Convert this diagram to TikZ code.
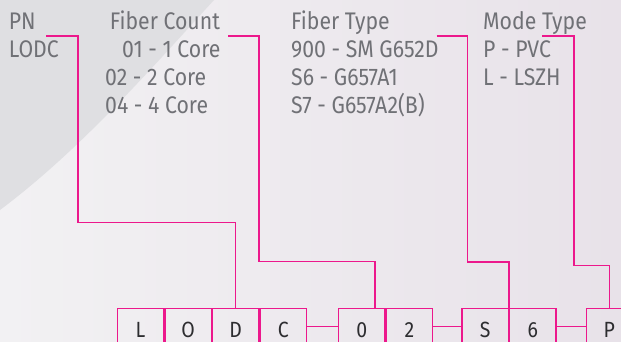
\documentclass[tikz,border=0pt]{standalone}
\usepackage{fontspec}
\setmainfont{Fira Sans}[FakeStretch=0.885]
\usepackage{tikz}
\usetikzlibrary{positioning,calc}
\definecolor{pnpink}{RGB}{236,24,140}
\definecolor{pngray}{RGB}{112,113,118}
\definecolor{pndark}{RGB}{45,45,48}
\definecolor{bgleft}{RGB}{242,241,243}
\definecolor{bgright}{RGB}{232,226,233}
\definecolor{bgcorner}{RGB}{223,223,226}
\tikzstyle{link} = [draw=pnpink, line width=1.3pt]
\tikzstyle{cell} = [draw=pnpink, line width=1.3pt, rectangle, minimum width=46.3pt,
  inner sep=0pt, text height=28.9pt, text depth=7.1pt, text=pndark,
  font=\fontsize{22}{24}\selectfont]
\tikzstyle{head} = [anchor=base west, inner sep=0pt, text=pngray,
  font=\fontsize{24}{28}\selectfont]

\begin{document}
\begin{tikzpicture}[x=1pt,y=-1pt]

  \useasboundingbox (0,0) rectangle (621,342);
  \clip (0,0) rectangle (621,342);
  % background
  \shade[left color=bgleft, right color=bgright] (0,0) rectangle (621,342);
  \fill[bgcorner] (0,0) -- (214,0) .. controls (150,70) and (80,150) .. (0,210) -- cycle;

  % headings and options
  \node[head] (pn) at (8.7,29.3) {PN};
  \node[head] (pnval) at (8.7,57.3) {LODC};

  \node[head] (fc) at (109.7,29.3) {Fiber Count};
  \node[head] (fc1) at (122,57.3) {01 - 1 Core};
  \node[head] (fc2) at (105,85.6) {02 - 2 Core};
  \node[head] (fc4) at (105,113.9) {04 - 4 Core};

  \node[head] (ft) at (291,29.3) {Fiber Type};
  \node[head] (ft900) at (291,57.3) {900 - SM G652D};
  \node[head] (fts6) at (291,85.6) {S6 - G657A1};
  \node[head] (fts7) at (291,113.9) {S7 - G657A2(B)};

  \node[head] (mt) at (483,29.3) {Mode Type};
  \node[head] (mtp) at (483,57.3) {P - PVC};
  \node[head] (mtl) at (483,85.6) {L - LSZH};

  % code cells
  \node[cell, anchor=north west] (L) at (116.7,308) {L};
  \node[cell, right=0pt of L] (O) {O};
  \node[cell, right=0pt of O] (D) {D};
  \node[cell, right=0pt of D] (C) {C};
  \node[cell, right=31pt of C] (zero) {0};
  \node[cell, right=0pt of zero] (two) {2};
  \node[cell, right=28pt of two] (S) {S};
  \node[cell, right=0pt of S] (six) {6};
  \node[cell, right=29pt of six] (P) {P};

  \path[link] (C) -- (zero);
  \path[link] (two) -- (S);
  \path[link] (six) -- (P);

  % leaders
  \coordinate (pnend) at (46,36);
  \coordinate (fcend) at (228,36);
  \coordinate (ftend) at (436.7,36);
  \coordinate (mtend) at (542.3,36);

  \path[link] (pnend) -| (78,222.7) -| (D.north);
  \path[link] (fcend) -| (259,261.7) -| ($(zero.north)!0.55!(zero.north east)$);
  \path[link] (ftend) -| (467.3,262) -| (S.north east);
  \path[link] (mtend) -| (574,265.7) -| (P.north);

\end{tikzpicture}
\end{document}
